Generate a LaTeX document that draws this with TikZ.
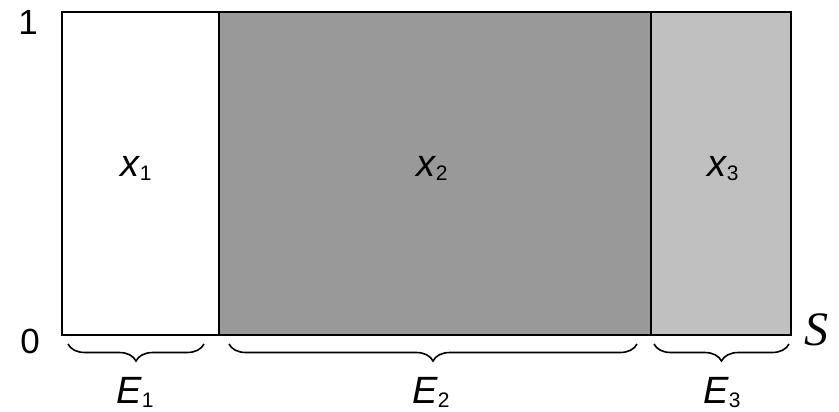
\documentclass[tikz,border=0pt]{standalone}
\usepackage{fontspec}
\setmainfont{Liberation Sans}
\newfontfamily\serifS{Liberation Serif}
\usetikzlibrary{decorations.pathreplacing}
\newcommand\lbsub[2]{\textit{#1}\kern-0.5pt\raisebox{-4pt}{\fontsize{21}{21}\selectfont #2}}
\tikzset{
  region/.style={draw=black, line width=2pt},
  lbl/.style={font=\fontsize{38}{40}\selectfont, inner sep=0pt, anchor=base},
  axnum/.style={font=\fontsize{35}{38}\selectfont, inner sep=0pt, anchor=base},
  bracestyle/.style={decorate, decoration={brace, mirror, amplitude=17pt}, line width=1.6pt}
}
\begin{document}
\begin{tikzpicture}[x=1pt, y=-1pt]
\useasboundingbox (0,0) rectangle (839,412);
\fill[white] (0,0) rectangle (839,412);
% regions
\fill[white] (62,12) rectangle (219,335);
\fill[fill={rgb,255:red,153;green,153;blue,153}] (219,12) rectangle (651,335);
\fill[fill={rgb,255:red,192;green,192;blue,192}] (651,12) rectangle (791,335);
\draw[region] (62,12) rectangle (791,335);
\draw[line width=1.5pt] (219,12) -- (219,335);
\draw[line width=1.5pt] (651,12) -- (651,335);
% labels
\node[lbl] (x1) at (136,176) {\lbsub{x}{1}};
\node[lbl] (x2) at (432,176) {\lbsub{x}{2}};
\node[lbl] (x3) at (723,176) {\lbsub{x}{3}};
\node[axnum] (one) at (28,35) {1};
\node[axnum] (zero) at (30,353) {0};
\node[inner sep=0pt, anchor=base, font=\serifS\itshape\fontsize{48}{50}\selectfont] (S) at (816,345) {S};
% braces
\coordinate (b1s) at (68,344);
\coordinate (b1e) at (204,344);
\coordinate (b2s) at (229,344);
\coordinate (b2e) at (637,344);
\coordinate (b3s) at (654,344);
\coordinate (b3e) at (789,344);
\draw[bracestyle] (b1s) -- (b1e);
\draw[bracestyle] (b2s) -- (b2e);
\draw[bracestyle] (b3s) -- (b3e);
\node[lbl] (E1) at (135,403) {\lbsub{E}{1}};
\node[lbl] (E2) at (431,403) {\lbsub{E}{2}};
\node[lbl] (E3) at (722,403) {\lbsub{E}{3}};
\end{tikzpicture}
\end{document}
